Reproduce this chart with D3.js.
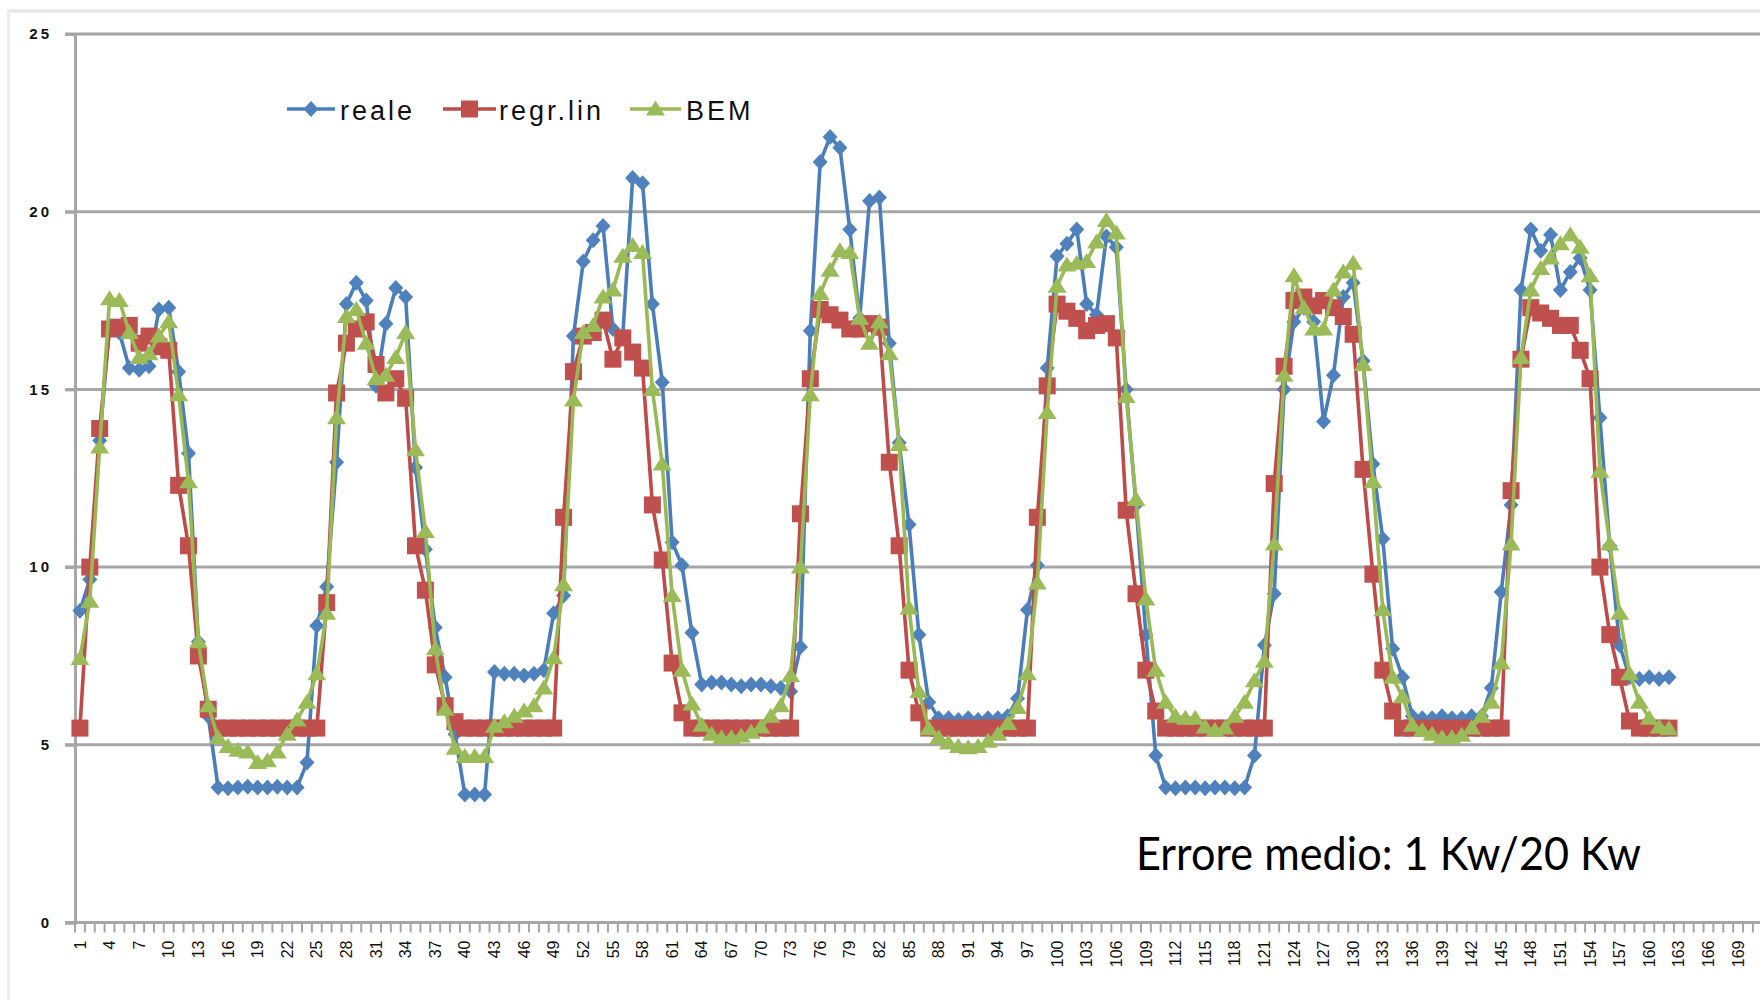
<!DOCTYPE html>
<html>
<head>
<meta charset="utf-8">
<script src="https://cdn.jsdelivr.net/npm/d3@7"></script>
<style>
  html, body { margin: 0; padding: 0; background: #ffffff; overflow: hidden; }
  svg { display: block; }
</style>
</head>
<body>
<svg id="chart" width="1760" height="1000"></svg>
<script>
// Hourly power (kW): measured values and two model estimates
const seriesNames = ["reale", "regr.lin", "BEM"];

const reale = [
  8.77, 9.65, 13.56, 16.8, 16.6, 15.6, 15.55, 15.65, 17.25, 17.3,
  15.5, 13.2, 7.9, 5.8, 3.8, 3.78, 3.8, 3.82, 3.8, 3.8,
  3.82, 3.8, 3.8, 4.5, 8.35, 9.45, 12.95, 17.4, 18.0, 17.5,
  15.1, 16.85, 17.85, 17.6, 12.8, 10.5, 8.3, 6.9, 5.3, 3.6,
  3.6, 3.6, 7.05, 7.0, 7.0, 6.95, 7.0, 7.1, 8.7, 9.2,
  16.5, 18.6, 19.2, 19.6, 16.7, 16.5, 20.95, 20.8, 17.4, 15.2,
  10.7, 10.05, 8.15, 6.7, 6.75, 6.75, 6.7, 6.65, 6.7, 6.7,
  6.65, 6.6, 6.5, 7.75, 16.65, 21.4, 22.1, 21.8, 19.5, 17.0,
  20.3, 20.4, 16.3, 13.5, 11.2, 8.1, 6.2, 5.75, 5.75, 5.7,
  5.75, 5.7, 5.75, 5.75, 5.8, 6.3, 8.8, 10.05, 15.6, 18.75,
  19.1, 19.5, 17.4, 17.1, 19.3, 19.0, 15.0, 11.75, 8.1, 4.7,
  3.8, 3.78, 3.8, 3.8, 3.78, 3.8, 3.8, 3.78, 3.8, 4.7,
  7.8, 9.25, 15.0, 16.9, 17.3, 16.9, 14.1, 15.4, 17.6, 18.0,
  15.8, 12.9, 10.8, 7.7, 6.9, 5.8, 5.75, 5.75, 5.8, 5.75,
  5.75, 5.8, 5.8, 6.6, 9.3, 11.75, 17.8, 19.5, 18.9, 19.35,
  17.8, 18.3, 18.7, 17.8, 14.2, 10.6, 7.8, 6.9, 6.85, 6.9,
  6.85, 6.9
];

const regrLin = [
  5.47, 10.0, 13.9, 16.7, 16.75, 16.8, 16.3, 16.5, 16.2, 16.1,
  12.3, 10.6, 7.5, 6.0, 5.47, 5.47, 5.47, 5.47, 5.47, 5.47,
  5.47, 5.47, 5.47, 5.47, 5.47, 9.0, 14.9, 16.3, 16.7, 16.9,
  15.7, 14.9, 15.3, 14.75, 10.6, 9.35, 7.25, 6.1, 5.65, 5.47,
  5.47, 5.47, 5.47, 5.47, 5.47, 5.47, 5.47, 5.47, 5.47, 11.4,
  15.5, 16.5, 16.6, 16.95, 15.85, 16.45, 16.05, 15.6, 11.75, 10.2,
  7.3, 5.9, 5.47, 5.47, 5.47, 5.47, 5.47, 5.47, 5.47, 5.47,
  5.47, 5.47, 5.47, 11.5, 15.3, 17.25, 17.1, 16.95, 16.7, 16.7,
  16.85, 16.75, 12.95, 10.6, 7.1, 5.9, 5.47, 5.47, 5.47, 5.47,
  5.47, 5.47, 5.47, 5.47, 5.47, 5.47, 5.47, 11.4, 15.1, 17.4,
  17.2, 17.0, 16.65, 16.8, 16.85, 16.45, 11.6, 9.25, 7.1, 5.95,
  5.47, 5.47, 5.47, 5.47, 5.47, 5.47, 5.47, 5.47, 5.47, 5.47,
  5.47, 12.35, 15.65, 17.5, 17.6, 17.35, 17.5, 17.3, 17.05, 16.55,
  12.75, 9.8, 7.1, 5.95, 5.47, 5.47, 5.47, 5.47, 5.47, 5.47,
  5.47, 5.47, 5.47, 5.47, 5.47, 12.15, 15.85, 17.3, 17.15, 17.0,
  16.8, 16.8, 16.1, 15.3, 10.0, 8.1, 6.9, 5.67, 5.47, 5.47,
  5.47, 5.47
];

const bem = [
  7.43, 9.04, 13.38, 17.55, 17.5, 16.6, 15.9, 16.0, 16.5, 16.9,
  14.85, 12.4, 7.9, 6.1, 5.2, 4.95, 4.85, 4.8, 4.5, 4.55,
  4.8, 5.3, 5.7, 6.2, 7.0, 8.7, 14.2, 17.05, 17.25, 16.3,
  15.3, 15.4, 15.9, 16.6, 13.3, 11.0, 7.7, 6.0, 4.9, 4.67,
  4.67, 4.67, 5.52, 5.65, 5.8, 5.95, 6.1, 6.6, 7.45, 9.5,
  14.7, 16.6, 16.8, 17.6, 17.8, 18.75, 19.05, 18.85, 15.0, 12.9,
  9.2, 7.1, 6.15, 5.55, 5.3, 5.2, 5.2, 5.25, 5.35, 5.5,
  5.8, 6.1, 6.95, 10.0, 14.85, 17.7, 18.35, 18.9, 18.85, 17.0,
  16.3, 16.9, 16.0, 13.45, 8.85, 6.5, 5.45, 5.2, 5.05, 4.95,
  4.92, 4.95, 5.1, 5.3, 5.6, 6.05, 7.0, 9.55, 14.35, 17.9,
  18.5, 18.55, 18.6, 19.15, 19.75, 19.4, 14.8, 11.9, 9.1, 7.1,
  6.2, 5.8, 5.75, 5.75, 5.5, 5.4, 5.47, 5.8, 6.2, 6.8,
  7.35, 10.65, 15.4, 18.2, 17.3, 16.7, 16.7, 17.8, 18.3, 18.55,
  15.7, 12.4, 8.8, 6.9, 6.35, 5.55, 5.4, 5.3, 5.2, 5.2,
  5.27, 5.47, 5.8, 6.2, 7.3, 10.65, 15.9, 17.8, 18.4, 18.7,
  19.1, 19.35, 19.0, 18.2, 12.7, 10.65, 8.7, 7.0, 6.2, 5.75,
  5.5, 5.45
];

// Category axis: hour index 1..171, labelled every third hour
const categoryCount = 171;
const xTickLabels = [
  1, 4, 7, 10, 13, 16, 19, 22, 25, 28, 31, 34, 37, 40, 43, 46, 49, 52, 55,
  58, 61, 64, 67, 70, 73, 76, 79, 82, 85, 88, 91, 94, 97, 100, 103, 106, 109,
  112, 115, 118, 121, 124, 127, 130, 133, 136, 139, 142, 145, 148, 151, 154,
  157, 160, 163, 166, 169
];
const yTicks = [0, 5, 10, 15, 20, 25];
const annotationText = "Errore medio: 1 Kw/20 Kw";

// ---------------------------------------------------------------------
const W = 1760, H = 1000;
const plot = { left: 75, top: 34, bottom: 922.5, band: 9.87 };
const categories = d3.range(1, categoryCount + 1);

const svg = d3.select("#chart");
svg.append("rect").attr("width", W).attr("height", H).attr("fill", "#ffffff");

// light frame of the chart area
svg.append("line").attr("x1", 8).attr("x2", W).attr("y1", 11).attr("y2", 11)
  .attr("stroke", "#e4e4e4").attr("stroke-width", 3);
svg.append("line").attr("x1", 8.5).attr("x2", 8.5).attr("y1", 10).attr("y2", H)
  .attr("stroke", "#ececec").attr("stroke-width", 3);

const x = d3.scaleBand()
  .domain(categories)
  .range([plot.left, plot.left + categoryCount * plot.band])
  .padding(0);
const cx = d => x(d) + x.bandwidth() / 2;

const y = d3.scaleLinear().domain([0, 25]).range([plot.bottom, plot.top]);

const gridColor = "#a6a6a6";

// horizontal gridlines
svg.append("g").selectAll("line")
  .data(yTicks.filter(v => v > 0))
  .join("line")
  .attr("x1", plot.left - 10).attr("x2", W)
  .attr("y1", d => y(d)).attr("y2", d => y(d))
  .attr("stroke", gridColor).attr("stroke-width", 3);

// value axis
const yAxis = d3.axisLeft(y).tickValues(yTicks).tickSize(10).tickPadding(13);
const gy = svg.append("g").attr("transform", `translate(${plot.left},0)`).call(yAxis);
gy.select(".domain").attr("stroke", gridColor).attr("stroke-width", 3);
gy.selectAll(".tick line").attr("stroke", gridColor).attr("stroke-width", 3);
gy.selectAll(".tick text")
  .attr("font-family", "Liberation Sans, Arial, sans-serif")
  .attr("font-size", 15)
  .attr("font-weight", "bold")
  .attr("letter-spacing", 3)
  .attr("fill", "#111");

// category axis: boundary tick marks + rotated labels
svg.append("line")
  .attr("x1", plot.left - 10).attr("x2", W)
  .attr("y1", plot.bottom).attr("y2", plot.bottom)
  .attr("stroke", gridColor).attr("stroke-width", 3);

svg.append("g").selectAll("line")
  .data(categories.concat([categoryCount + 1]))
  .join("line")
  .attr("x1", d => d <= categoryCount ? x(d) : x(categoryCount) + x.bandwidth())
  .attr("x2", d => d <= categoryCount ? x(d) : x(categoryCount) + x.bandwidth())
  .attr("y1", plot.bottom).attr("y2", plot.bottom + 10)
  .attr("stroke", gridColor).attr("stroke-width", 2);

const xAxis = d3.axisBottom(x).tickValues(xTickLabels).tickSize(0).tickPadding(0);
const gx = svg.append("g").attr("transform", `translate(0,${plot.bottom})`).call(xAxis);
gx.select(".domain").remove();
gx.selectAll(".tick text")
  .attr("font-family", "Liberation Sans, Arial, sans-serif")
  .attr("font-size", 16)
  .attr("fill", "#111")
  .attr("text-anchor", "end")
  .attr("transform", "translate(0,18) rotate(-90)")
  .attr("x", 0).attr("y", 0).attr("dy", "0.35em");

// series
const series = [
  { name: seriesNames[0], values: reale,   line: "#4a7ebb", fill: "#4f81bd", marker: "diamond" },
  { name: seriesNames[1], values: regrLin, line: "#be4b48", fill: "#c0504d", marker: "square" },
  { name: seriesNames[2], values: bem,     line: "#98b954", fill: "#9bbb59", marker: "triangle" }
];

const markerPath = {
  diamond: "M0,-8L7.5,0L0,8L-7.5,0Z",
  square: "M-8.5,-8.5H8.5V8.5H-8.5Z",
  triangle: "M0,-8.5L9.5,6.5L-9.5,6.5Z"
};

const line = d3.line()
  .x((v, i) => cx(categories[i]))
  .y(v => y(v));

series.forEach(s => {
  const g = svg.append("g").attr("class", "series");
  g.append("path")
    .datum(s.values)
    .attr("d", line)
    .attr("fill", "none")
    .attr("stroke", s.line)
    .attr("stroke-width", 3.6)
    .attr("stroke-linejoin", "round");
  g.selectAll("path.marker")
    .data(s.values)
    .join("path")
    .attr("class", "marker")
    .attr("d", markerPath[s.marker])
    .attr("transform", (v, i) => `translate(${cx(categories[i])},${y(v)})`)
    .attr("fill", s.fill);
});

// legend
const legendItems = [
  { s: series[0], x0: 287, x1: 335, tx: 340 },
  { s: series[1], x0: 443, x1: 496, tx: 499 },
  { s: series[2], x0: 630, x1: 681, tx: 686 }
];
const legendY = 109;
const lg = svg.append("g").attr("class", "legend");
legendItems.forEach(it => {
  lg.append("line")
    .attr("x1", it.x0).attr("x2", it.x1)
    .attr("y1", legendY).attr("y2", legendY)
    .attr("stroke", it.s.line).attr("stroke-width", 3.6);
  lg.append("path")
    .attr("d", markerPath[it.s.marker])
    .attr("transform", `translate(${(it.x0 + it.x1) / 2},${legendY})`)
    .attr("fill", it.s.fill);
  lg.append("text")
    .attr("x", it.tx).attr("y", 120)
    .attr("font-family", "Liberation Sans, Arial, sans-serif")
    .attr("font-size", 27)
    .attr("letter-spacing", 3)
    .attr("fill", "#111")
    .text(it.s.name);
});

// annotation
svg.append("text")
  .attr("x", 1136).attr("y", 870)
  .attr("font-family", "Lato, 'Open Sans', sans-serif")
  .attr("font-size", 46)
  .attr("fill", "#000")
  .attr("textLength", 505)
  .attr("lengthAdjust", "spacingAndGlyphs")
  .text(annotationText);
</script>
</body>
</html>
